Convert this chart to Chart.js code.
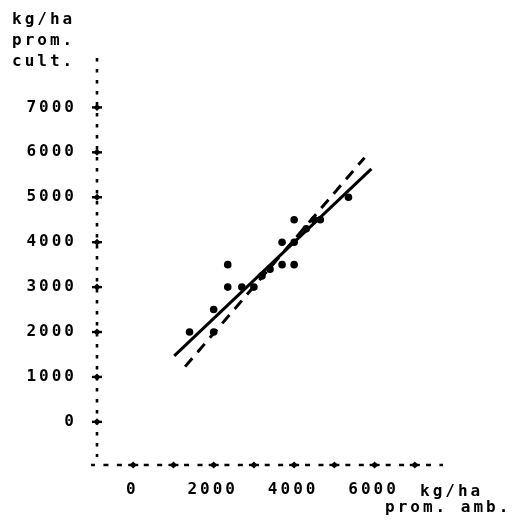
<!DOCTYPE html>
<html>
<head>
<meta charset="utf-8">
<script src="https://cdn.jsdelivr.net/npm/chart.js@4.4.1/dist/chart.umd.min.js"></script>
<style>
	html, body { margin: 0; padding: 0; background: #fff; }
	#wrap { width: 515px; height: 523px; }
</style>
</head>
<body>
<div id="wrap"><canvas id="chart" width="515" height="523"></canvas></div>
<script>
'use strict'

// observed points (kg/ha prom. amb. vs kg/ha prom. cult.)
const pointsX = [1400, 2000, 2000, 2350, 2350, 2700, 3000, 3200, 3400, 3700, 3700, 4000, 4000, 4000, 4300, 4500, 4650, 5350]
const pointsY = [2000, 2000, 2500, 3500, 3000, 3000, 3000, 3250, 3400, 4000, 3500, 4000, 3500, 4500, 4300, 4500, 4500, 5000]

// solid fitted line and dashed line, end points
const fitX = [1020, 5920]
const fitY = [1470, 5630]
const refX = [1290, 5750]
const refY = [1230, 5880]

const xTicks = [0, 1000, 2000, 3000, 4000, 5000, 6000, 7000]
const xLabels = ['0', '', '2000', '', '4000', '', '6000', '']
const yTicks = [0, 1000, 2000, 3000, 4000, 5000, 6000, 7000]
const yLabels = ['0', '1000', '2000', '3000', '4000', '5000', '6000', '7000']

const yTitle = ['kg/ha', 'prom.', 'cult.']
const xTitle = ['kg/ha', 'prom. amb.']

const FAMILY = '"DejaVu Sans Mono", "Liberation Mono", monospace'
const SPACING = '3px'

const toPoints = (xs, ys) => xs.map((x, i) => ({ x: x, y: ys[i] }))

const typewriter = {
	id: 'typewriter',
	beforeLayout(chart) { chart.ctx.letterSpacing = SPACING },
	beforeDraw(chart) { chart.ctx.letterSpacing = SPACING },
}

function mark(ctx, px, py) {
	ctx.beginPath()
	ctx.moveTo(px - 3.5, py)
	ctx.lineTo(px, py - 3.5)
	ctx.lineTo(px + 3.5, py)
	ctx.lineTo(px, py + 3.5)
	ctx.closePath()
	ctx.fill()
	ctx.fillRect(px - 5, py - 1.2, 10, 2.4)
}

// dotted axes drawn along the scale edges
const dottedAxes = {
	id: 'dottedAxes',
	beforeDatasetsDraw(chart) {
		const { ctx, scales: { x, y } } = chart
		ctx.save()
		ctx.strokeStyle = '#000'
		ctx.lineCap = 'butt'

		ctx.lineWidth = 2.6
		ctx.setLineDash([3.5, 7.5])
		ctx.beginPath()
		ctx.moveTo(x.left, y.top)
		ctx.lineTo(x.left, y.bottom - 8)
		ctx.stroke()

		ctx.lineWidth = 2.6
		ctx.setLineDash([5, 8.44])
		ctx.lineDashOffset = 1
		ctx.beginPath()
		ctx.moveTo(x.left - 6, y.bottom)
		ctx.lineTo(x.right, y.bottom)
		ctx.stroke()
		ctx.restore()
	},
	afterDraw(chart) {
		const { ctx, scales: { x, y } } = chart
		ctx.save()
		ctx.fillStyle = '#000'
		xTicks.forEach(v => mark(ctx, x.getPixelForValue(v), y.bottom))
		yTicks.forEach(v => mark(ctx, x.left, y.getPixelForValue(v)))

		ctx.letterSpacing = SPACING
		ctx.font = 'bold 16px ' + FAMILY
		ctx.textAlign = 'left'
		ctx.textBaseline = 'alphabetic'
		yTitle.forEach((t, i) => ctx.fillText(t, 12, 24 + i * 21))
		ctx.fillText(xTitle[0], 420, 496)
		ctx.fillText(xTitle[1], 385, 512)
		ctx.restore()
	},
}

new Chart(document.getElementById('chart'), {
	type: 'scatter',
	data: {
		datasets: [
			{
				data: toPoints(pointsX, pointsY),
				backgroundColor: '#000',
				borderColor: '#000',
				pointRadius: 3.8,
				pointBorderWidth: 0,
			},
			{
				type: 'line',
				data: toPoints(fitX, fitY),
				borderColor: '#000',
				borderWidth: 3,
				pointRadius: 0,
				fill: false,
			},
			{
				type: 'line',
				data: toPoints(refX, refY),
				borderColor: '#000',
				borderWidth: 3,
				borderDash: [11, 8],
				pointRadius: 0,
				fill: false,
			},
		],
	},
	options: {
		responsive: false,
		animation: false,
		devicePixelRatio: 1,
		layout: {
			padding: { top: 58, right: 72, left: 0, bottom: 0 },
		},
		plugins: {
			legend: { display: false },
			tooltip: { enabled: false },
		},
		scales: {
			x: {
				type: 'linear',
				min: -900,
				max: 7700,
				afterBuildTicks: s => { s.ticks = xTicks.map(v => ({ value: v })) },
				afterFit: s => { s.height = 58 },
				grid: { display: false, drawTicks: false },
				border: { display: false },
				ticks: {
					autoSkip: false,
					maxRotation: 0,
					padding: 15,
					labelOffset: -1,
					color: '#000',
					font: { family: FAMILY, size: 16, weight: 'bold' },
					callback: v => xLabels[xTicks.indexOf(v)] ?? '',
				},
			},
			y: {
				type: 'linear',
				min: -960,
				max: 8100,
				afterBuildTicks: s => { s.ticks = yTicks.map(v => ({ value: v })) },
				afterFit: s => { s.width = 97 },
				grid: { display: false, drawTicks: false },
				border: { display: false },
				ticks: {
					autoSkip: false,
					padding: 20,
					color: '#000',
					font: { family: FAMILY, size: 16, weight: 'bold' },
					callback: v => yLabels[yTicks.indexOf(v)] ?? '',
				},
			},
		},
	},
	plugins: [typewriter, dottedAxes],
})
</script>
</body>
</html>
